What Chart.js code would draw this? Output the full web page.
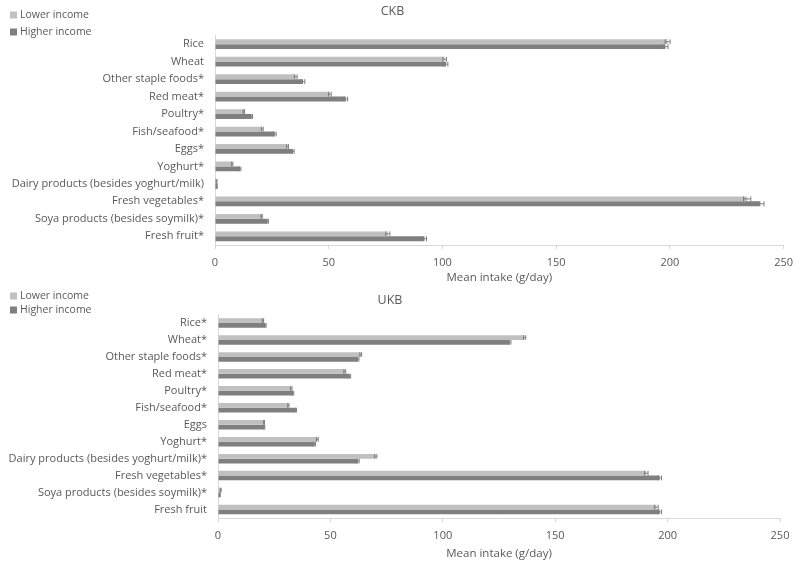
<!DOCTYPE html>
<html>
<head>
<meta charset="utf-8">
<script src="https://cdn.jsdelivr.net/npm/chart.js@4"></script>
<style>
  body { margin: 0; background: #fff; }
  .wrap { position: absolute; left: 0; width: 800px; }
</style>
</head>
<body>
<div class="wrap" style="top:0;height:286px"><canvas id="chartCKB"></canvas></div>
<div class="wrap" style="top:286px;height:277px"><canvas id="chartUKB"></canvas></div>
<script>
const seriesNames = ["Lower income", "Higher income"];

// CKB
const ckbFoods = ["Rice", "Wheat", "Other staple foods*", "Red meat*", "Poultry*", "Fish/seafood*", "Eggs*", "Yoghurt*",
  "Dairy products (besides yoghurt/milk)", "Fresh vegetables*", "Soya products (besides soymilk)*", "Fresh fruit*"];
const ckbLower = [199, 101, 35.5, 50.5, 12.7, 20.8, 31.9, 7.6, 0.7, 234, 20.5, 76];
const ckbHigher = [198, 101.6, 38.7, 57.5, 16.1, 26.3, 34.3, 11, 0.8, 239.8, 23.1, 92.1];
const ckbLowerErr = [1.1, 0.8, 0.6, 0.6, 0.3, 0.4, 0.4, 0.3, 0.2, 1.6, 0.3, 0.9];
const ckbHigherErr = [1.2, 0.8, 0.8, 0.8, 0.4, 0.6, 0.5, 0.4, 0.2, 1.6, 0.4, 0.9];

// UKB
const ukbFoods = ["Rice*", "Wheat*", "Other staple foods*", "Red meat*", "Poultry*", "Fish/seafood*", "Eggs", "Yoghurt*",
  "Dairy products (besides yoghurt/milk)*", "Fresh vegetables*", "Soya products (besides soymilk)*", "Fresh fruit"];
const ukbLower = [20, 136.4, 63.5, 56.4, 32.6, 31.3, 20.5, 44.2, 70.2, 190.5, 1.2, 195];
const ukbHigher = [21.1, 129.8, 62.3, 58.6, 33.4, 34.6, 20.6, 43, 62.3, 196.5, 0.8, 196.5];
const ukbLowerErr = [0.3, 0.5, 0.4, 0.4, 0.3, 0.3, 0.2, 0.4, 0.5, 0.8, 0.2, 0.8];
const ukbHigherErr = [0.3, 0.5, 0.4, 0.4, 0.3, 0.3, 0.2, 0.4, 0.5, 0.8, 0.2, 0.8];

const xTicks = [0, 50, 100, 150, 200, 250];

const textColor = "#595959";
const lineColor = "#d9d9d9";
const barColors = ["#c0c0c0", "#7f7f7f"];
const fontFamily = "'Open Sans', sans-serif";

// error bars drawn from the err arrays through the x scale
const errorBars = {
  id: "errorBars",
  afterDatasetsDraw(chart) {
    const ctx = chart.ctx;
    const xs = chart.scales.x;
    ctx.save();
    ctx.strokeStyle = "#7f7f7f";
    ctx.lineWidth = 1;
    chart.data.datasets.forEach((ds, di) => {
      const meta = chart.getDatasetMeta(di);
      meta.data.forEach((bar, i) => {
        const v = ds.data[i];
        const e = ds.err[i];
        const x1 = xs.getPixelForValue(v - e);
        const x2 = xs.getPixelForValue(v + e);
        const h = bar.height / 2;
        ctx.beginPath();
        ctx.moveTo(x1, bar.y); ctx.lineTo(x2, bar.y);
        ctx.moveTo(x1, bar.y - h); ctx.lineTo(x1, bar.y + h);
        ctx.moveTo(x2, bar.y - h); ctx.lineTo(x2, bar.y + h);
        ctx.stroke();
      });
    });
    ctx.restore();
  }
};

// legend stacked in the top-left corner
const cornerLegend = {
  id: "cornerLegend",
  afterDraw(chart, args, opts) {
    const ctx = chart.ctx;
    ctx.save();
    ctx.font = "10.5px " + fontFamily;
    ctx.textBaseline = "middle";
    chart.data.datasets.forEach((ds, i) => {
      const y = opts.y[i];
      ctx.fillStyle = ds.backgroundColor;
      ctx.fillRect(10, y - 3.5, 7, 7);
      ctx.fillStyle = textColor;
      ctx.fillText(ds.label, 20, y);
    });
    ctx.restore();
  }
};

function makeChart(id, title, foods, lower, higher, lowerErr, higherErr, cfg) {
  return new Chart(document.getElementById(id), {
    type: "bar",
    data: {
      labels: foods,
      datasets: [
        { label: seriesNames[0], data: lower, err: lowerErr, backgroundColor: barColors[0] },
        { label: seriesNames[1], data: higher, err: higherErr, backgroundColor: barColors[1] },
      ],
    },
    options: {
      indexAxis: "y",
      responsive: true,
      maintainAspectRatio: false,
      animation: false,
      datasets: { bar: { categoryPercentage: 0.56, barPercentage: 1 } },
      layout: { padding: { left: 0, right: cfg.padRight, top: 0, bottom: 0 } },
      plugins: {
        legend: { display: false },
        tooltip: { enabled: false },
        title: {
          display: true,
          text: title,
          color: textColor,
          font: { family: fontFamily, size: 12.5, weight: "normal" },
          padding: { top: cfg.titleTop, bottom: cfg.titleBottom },
        },
        cornerLegend: { y: cfg.legendY },
      },
      scales: {
        x: {
          min: 0,
          max: 250,
          afterBuildTicks: (s) => { s.ticks = xTicks.map((v) => ({ value: v })); },
          afterFit: (s) => { s.height = cfg.xHeight; },
          grid: { display: true, drawOnChartArea: false, tickLength: 4, color: lineColor },
          border: { color: lineColor },
          ticks: { color: textColor, padding: cfg.tickPad, font: { family: fontFamily, size: 11 } },
          title: {
            display: true,
            text: "Mean intake (g/day)",
            color: textColor,
            font: { family: fontFamily, size: 11.5 },
            padding: cfg.axisTitlePad,
          },
        },
        y: {
          afterFit: (s) => { s.width = cfg.yWidth; },
          grid: { display: false, drawTicks: false },
          border: { color: lineColor },
          ticks: { color: textColor, padding: 11, autoSkip: false, font: { family: fontFamily, size: 11 } },
        },
      },
    },
    plugins: [errorBars, cornerLegend],
  });
}

makeChart("chartCKB", "CKB", ckbFoods, ckbLower, ckbHigher, ckbLowerErr, ckbHigherErr, {
  padRight: 15, titleTop: 3.5, titleBottom: 17, legendY: [15, 32],
  xHeight: 41, tickPad: 7, axisTitlePad: { top: 0, bottom: 1 }, yWidth: 215,
});

makeChart("chartUKB", "UKB", ukbFoods, ukbLower, ukbHigher, ukbLowerErr, ukbHigherErr, {
  padRight: 20, titleTop: 6.5, titleBottom: 7, legendY: [10, 24],
  xHeight: 45, tickPad: 7, axisTitlePad: { top: 0, bottom: 2.5 }, yWidth: 218,
});
</script>
</body>
</html>
